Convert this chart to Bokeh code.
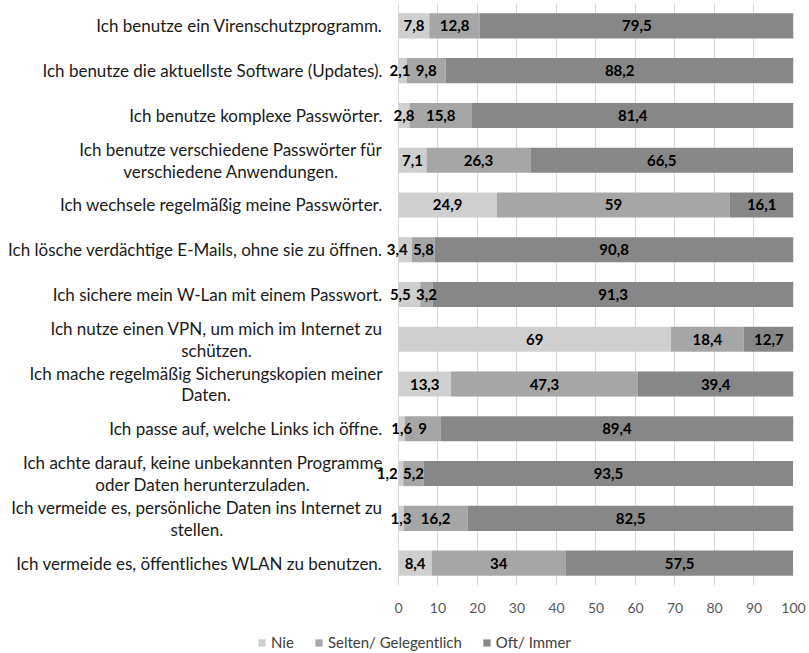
from bokeh.plotting import figure
from bokeh.layouts import column
from bokeh.models import ColumnDataSource, FactorRange, Range1d, FixedTicker, Legend, LegendItem
from bokeh.core.properties import value
from bokeh.embed import file_html
from bokeh.resources import INLINE

categories = [
    "Ich benutze ein Virenschutzprogramm.",
    "Ich benutze die aktuellste Software (Updates).",
    "Ich benutze komplexe Passwörter.",
    "Ich benutze verschiedene Passwörter für\nverschiedene Anwendungen.",
    "Ich wechsele regelmäßig meine Passwörter.",
    "Ich lösche verdächtige E-Mails, ohne sie zu öffnen.",
    "Ich sichere mein W-Lan mit einem Passwort.",
    "Ich nutze einen VPN, um mich im Internet zu\nschützen.",
    "Ich mache regelmäßig Sicherungskopien meiner\nDaten.",
    "Ich passe auf, welche Links ich öffne.",
    "Ich achte darauf, keine unbekannten Programme\noder Daten herunterzuladen.",
    "Ich vermeide es, persönliche Daten ins Internet zu\nstellen.",
    "Ich vermeide es, öffentliches WLAN zu benutzen.",
]
nie = [7.8, 2.1, 2.8, 7.1, 24.9, 3.4, 5.5, 69, 13.3, 1.6, 1.2, 1.3, 8.4]
selten = [12.8, 9.8, 15.8, 26.3, 59, 5.8, 3.2, 18.4, 47.3, 9, 5.2, 16.2, 34]
oft = [79.5, 88.2, 81.4, 66.5, 16.1, 90.8, 91.3, 12.7, 39.4, 89.4, 93.5, 82.5, 57.5]
series = ["Nie", "Selten/ Gelegentlich", "Oft/ Immer"]
series_keys = ["nie", "selten", "oft"]
colors = ["#cfcfcf", "#a6a6a6", "#878787"]
x_ticks = [0, 10, 20, 30, 40, 50, 60, 70, 80, 90, 100]

FONT = "Lato"
FRAME_W = 785
X_START = -98.73
PX_PER_UNIT = FRAME_W / (100 - X_START)

src = ColumnDataSource(dict(cat=categories, nie=nie, selten=selten, oft=oft))

p = figure(frame_width=FRAME_W, frame_height=582,
           x_range=Range1d(X_START, 100),
           y_range=FactorRange(factors=list(reversed(categories)), range_padding=0),
           y_axis_location=None,
           min_border_left=8, min_border_right=14, min_border_top=3, min_border_bottom=46,
           output_backend="svg", toolbar_location=None)
p.outline_line_color = None

renderers = p.hbar_stack(series_keys, y="cat", height=0.56, fill_color=colors,
                         line_color=None, source=src)

# data labels (centred in segments, nudged left when they would collide)
def fmt(v):
    return str(int(v)) if float(v).is_integer() else str(v).replace(".", ",")

def est_w(s):
    return sum(4.0 if ch == "," else 8.6 for ch in s)

lx, ly, lt, lxo = [], [], [], []
for i, c in enumerate(categories):
    left = 0.0
    row = []
    for vals in (nie, selten, oft):
        v = vals[i]
        row.append([left + v / 2.0, fmt(v), 0.0])
        left += v
    for k in range(len(row) - 2, -1, -1):
        cx_next = row[k + 1][0] * PX_PER_UNIT + row[k + 1][2]
        cx = row[k][0] * PX_PER_UNIT
        need = cx_next - est_w(row[k + 1][1]) / 2 - 5 - est_w(row[k][1]) / 2
        if cx > need:
            row[k][2] = need - cx
    for cxv, t, off in row:
        lx.append(cxv)
        ly.append(c)
        lt.append(t)
        lxo.append(off)
lsrc = ColumnDataSource(dict(x=lx, y=ly, t=lt, xo=lxo))
p.text(x="x", y="y", text="t", x_offset="xo", source=lsrc, text_align="center",
       text_baseline="middle", text_font=value(FONT), text_font_style="bold",
       text_font_size="15px", text_color="#000000")

# category labels
csrc = ColumnDataSource(dict(x=[0] * len(categories), y=categories, t=categories))
p.text(x="x", y="y", text="t", source=csrc, x_offset=-16, anchor="center_right",
       text_align="center", text_baseline="middle", text_line_height=1.03,
       text_font=value(FONT), text_font_size="17px", text_color="#1a1a1a")

p.xgrid.ticker = FixedTicker(ticks=x_ticks)
p.xgrid.grid_line_color = "#d9d9d9"
p.ygrid.grid_line_color = None

ax = p.xaxis[0]
ax.ticker = FixedTicker(ticks=x_ticks)
ax.axis_line_color = None
ax.major_tick_line_color = None
ax.minor_tick_line_color = None
ax.major_tick_out = 0
ax.major_tick_in = 0
ax.major_label_standoff = 17
ax.major_label_text_font = FONT
ax.major_label_text_font_size = "14px"
ax.major_label_text_color = "#595959"

# legend strip (separate small figure below the chart)
lg = figure(frame_width=FRAME_W, frame_height=22, x_range=Range1d(0, 1), y_range=Range1d(0, 1),
            x_axis_location=None, y_axis_location=None,
            min_border_left=8, min_border_right=14, min_border_top=0, min_border_bottom=0,
            output_backend="svg", toolbar_location=None)
lg.outline_line_color = None
lg.xgrid.visible = False
lg.ygrid.visible = False
proxies = []
for c in colors:
    r = lg.hbar(y=[0], right=[0], height=0, fill_color=c, line_color=None)
    r.visible = False
    proxies.append(r)
legend = Legend(items=[LegendItem(label=s, renderers=[r]) for s, r in zip(series, proxies)],
                orientation="horizontal", location=(249, 2),
                glyph_width=9, glyph_height=9, label_height=16, label_standoff=5, spacing=20,
                padding=0, margin=0, border_line_color=None, background_fill_alpha=0,
                label_text_font=FONT, label_text_font_size="15px", label_text_color="#404040")
lg.add_layout(legend, "center")

layout = column(p, lg, spacing=0)
open("out.html", "w").write(file_html(layout, INLINE))
